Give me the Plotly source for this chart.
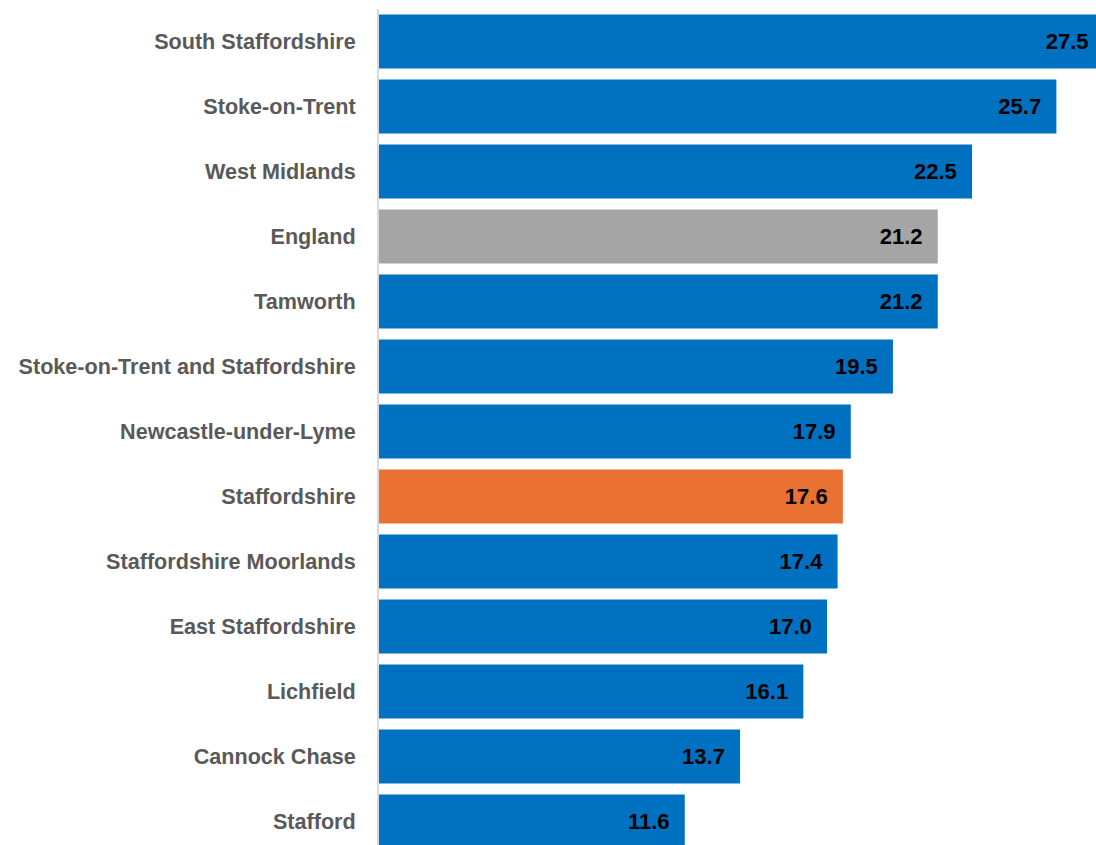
import plotly.graph_objects as go

categories = [
    "South Staffordshire", "Stoke-on-Trent", "West Midlands", "England", "Tamworth",
    "Stoke-on-Trent and Staffordshire", "Newcastle-under-Lyme", "Staffordshire",
    "Staffordshire Moorlands", "East Staffordshire", "Lichfield", "Cannock Chase", "Stafford",
]
values = [27.5, 25.7, 22.5, 21.2, 21.2, 19.5, 17.9, 17.6, 17.4, 17.0, 16.1, 13.7, 11.6]

BLUE, GREY, ORANGE = "#0070C0", "#A5A5A5", "#E97132"
colors = [GREY if c == "England" else ORANGE if c == "Staffordshire" else BLUE for c in categories]

FONT = "Liberation Sans, Arial, sans-serif"

fig = go.Figure(go.Bar(
    x=values, y=categories, orientation="h",
    marker=dict(color=colors, line=dict(width=0)),
    text=[f"{v:.1f}\u00a0\u00a0" for v in values],
    textposition="inside", insidetextanchor="end",
    textfont=dict(family=FONT, size=22, color="black", weight="bold"),
    hoverinfo="skip",
))

fig.update_layout(
    width=1117, height=854,
    margin=dict(l=379, r=0, t=9, b=0),
    paper_bgcolor="white", plot_bgcolor="white",
    bargap=0.17, showlegend=False,
    xaxis=dict(range=[0, 28], visible=False, fixedrange=True),
    yaxis=dict(
        range=[12.5, -0.5], showgrid=False, zeroline=False, fixedrange=True,
        showline=True, linecolor="#D9D9D9", linewidth=2,
        ticks="", ticklabelstandoff=17,
        tickfont=dict(family=FONT, size=21.6, color="#595959", weight="bold"),
    ),
)

fig.write_html(
    "out.html",
    config={"displayModeBar": False},
    post_script="document.body.style.margin='0';document.body.style.overflow='hidden';",
)
